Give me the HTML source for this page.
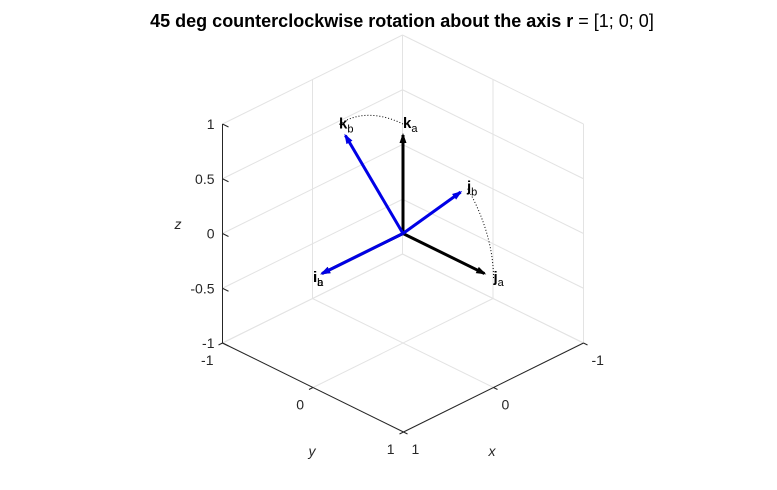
<!DOCTYPE html>
<html><head><meta charset="utf-8"><style>
body{margin:0;background:#fff;}
svg text{font-family:"Liberation Sans",Arial,sans-serif;}
</style></head><body>
<svg id="chart" width="777" height="485" viewBox="0 0 777 485" xmlns="http://www.w3.org/2000/svg">
<text x="402" y="27" text-anchor="middle" font-size="18" font-weight="bold" fill="#000">45 deg counterclockwise rotation about the axis r <tspan font-weight="normal">= [1; 0; 0]</tspan></text>
<g id="grid"></g>
<g id="axes"></g>
<g id="marks"></g>
</svg>
<script>
const zTicks=[-1,-0.5,0,0.5,1];
const zTickLabels=["-1","-0.5","0","0.5","1"];
const xyTicks=[-1,0,1];
const xyTickLabels=["-1","0","1"];
const vecNames=["i_a","j_a","k_a","i_b","j_b","k_b"];
const vecX=[1,0,0,1,0,0];
const vecY=[0,1,0,0,0.7071,-0.7071];
const vecZ=[0,0,1,0,0.7071,0.7071];
const angleDeg=45;
const NS="http://www.w3.org/2000/svg";
const C=[403,233.5],EX=[-90,44.5],EY=[90.5,44.5],EZ=[0,-109.5];
function P(x,y,z){return [C[0]+x*EX[0]+y*EY[0]+z*EZ[0],C[1]+x*EX[1]+y*EY[1]+z*EZ[1]];}
function mk(t,a,parent){const e=document.createElementNS(NS,t);for(const k in a)e.setAttribute(k,a[k]);parent.appendChild(e);return e;}
const grid=document.getElementById('grid'),axes=document.getElementById('axes'),marks=document.getElementById('marks');
function gl(a,b,name){const l=mk('line',{x1:a[0],y1:a[1],x2:b[0],y2:b[1],stroke:'#e3e3e3','stroke-width':1},grid);

}
zTicks.forEach(z=>{gl(P(-1,-1,z),P(1,-1,z),'grid-z-left');gl(P(-1,-1,z),P(-1,1,z),'grid-z-right');});
xyTicks.forEach(v=>{
 gl(P(v,-1,-1),P(v,-1,1),'grid-x-wall');gl(P(v,-1,-1),P(v,1,-1),'grid-x-floor');
 gl(P(-1,v,-1),P(-1,v,1),'grid-y-wall');gl(P(-1,v,-1),P(1,v,-1),'grid-y-floor');
});
function al(a,b,name){const l=mk('line',{x1:a[0],y1:a[1],x2:b[0],y2:b[1],stroke:'#262626','stroke-width':1},axes);

}
function tx(s,p,anchor,name,extra){const t=mk('text',Object.assign({x:p[0],y:p[1],'text-anchor':anchor,'font-size':14,fill:'#262626'},extra||{}),axes);t.textContent=s;

return t;}
al(P(1,-1,-1),P(1,-1,1),'z-axis-line');
al(P(1,-1,-1),P(1,1,-1),'y-axis-line');
al(P(-1,1,-1),P(1,1,-1),'x-axis-line');
zTicks.forEach((z,i)=>{const p=P(1,-1,z);al(p,[p[0]+6,p[1]+3],'z-tick');tx(zTickLabels[i],[p[0]-8,p[1]+5],'end','z-tick-label');});
xyTicks.forEach((v,i)=>{const p=P(1,v,-1);al(p,[p[0]-4,p[1]+2],'y-tick');tx(xyTickLabels[i],[p[0]-9,p[1]+22],'end','y-tick-label');
 const q=P(v,1,-1);al(q,[q[0]+4,q[1]+2],'x-tick');tx(xyTickLabels[i],[q[0]+8,q[1]+22],'start','x-tick-label');});
tx('z',[178,229],'middle','z-axis-title',{'font-style':'italic'});
tx('y',[312,456],'middle','y-axis-title',{'font-style':'italic'});
tx('x',[492,456],'middle','x-axis-title',{'font-style':'italic'});
function arc(from,name){let pts=[];const r=angleDeg*Math.PI/180;for(let k=0;k<=30;k++){const t=r*k/30;
 const y=from[1]*Math.cos(t)-from[2]*Math.sin(t),z=from[1]*Math.sin(t)+from[2]*Math.cos(t);pts.push(P(from[0],y,z).join(','));}
 const pl=mk('polyline',{points:pts.join(' '),fill:'none',stroke:'#000','stroke-width':1,'stroke-dasharray':'1,2'},marks);
 
 }
arc([vecX[1],vecY[1],vecZ[1]],'arc-j');
arc([vecX[2],vecY[2],vecZ[2]],'arc-k');
const O=P(0,0,0);
vecNames.forEach((n,i)=>{const col=i<3?'#000':'#0000e6';const s=0.9;
 const tip=P(vecX[i]*s,vecY[i]*s,vecZ[i]*s);
 const l=mk('line',{x1:O[0],y1:O[1],x2:tip[0],y2:tip[1],stroke:col,'stroke-width':3},marks);
 
 
 const dx=tip[0]-O[0],dy=tip[1]-O[1],L=Math.hypot(dx,dy),ux=dx/L,uy=dy/L,h=8,w=3.5;
 const hp=mk('polygon',{points:[tip[0]+ux*2,tip[1]+uy*2,tip[0]-ux*h-uy*w,tip[1]-uy*h+ux*w,tip[0]-ux*h+uy*w,tip[1]-uy*h-ux*w].join(','),fill:col},marks);
 
 
 const lp=P(vecX[i],vecY[i],vecZ[i]);
 const t=mk('text',{x:lp[0],y:lp[1]+4,'font-size':15,fill:'#000'},marks);
 
 
 const a=mk('tspan',{'font-weight':'bold'},t);a.textContent=n[0];
 const b=mk('tspan',{'font-size':11,dy:4},t);b.textContent=n[2];
});
</script>
</body></html>
